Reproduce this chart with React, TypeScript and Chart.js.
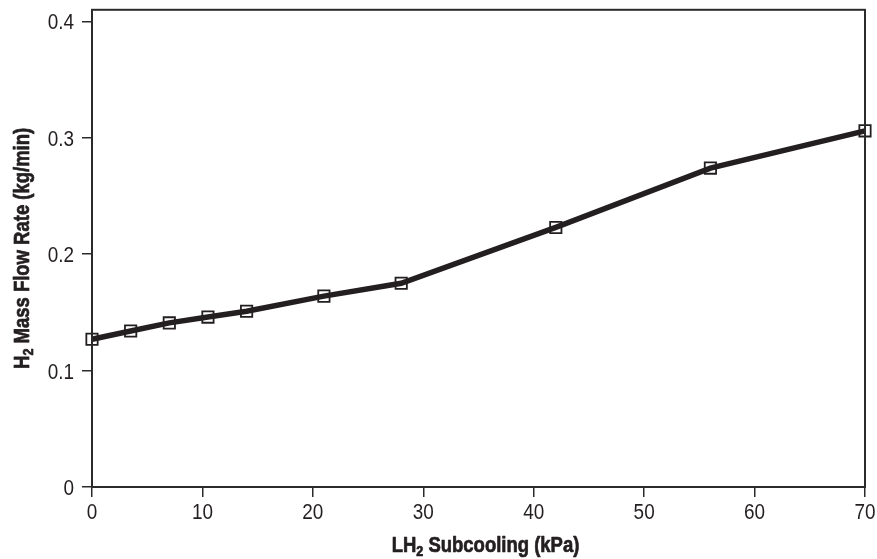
import React, { useEffect, useRef } from "react";
import { Chart, registerables } from "chart.js";

Chart.register(...registerables);

const subcoolingKPa = [0, 3.5, 7, 10.5, 14, 21, 28, 42, 56, 70];
const massFlowRate = [0.127, 0.134, 0.141, 0.146, 0.151, 0.164, 0.175, 0.223, 0.274, 0.306];
const xTicks = [0, 10, 20, 30, 40, 50, 60, 70];
const yTicks = [0, 0.1, 0.2, 0.3, 0.4];
const xTickLabels = ["0", "10", "20", "30", "40", "50", "60", "70"];
const yTickLabels = ["0", "0.1", "0.2", "0.3", "0.4"];

const INK = "#231f20";
const AXIS = "#2b2b2b";
const FONT = "'Liberation Sans', Arial, sans-serif";
const NARROW = 0.86;

function drawNarrow(ctx: CanvasRenderingContext2D, text: string, x: number, y: number, align: "left" | "right" | "center") {
  const w = ctx.measureText(text).width * NARROW;
  let left = x;
  if (align === "right") left = x - w;
  else if (align === "center") left = x - w / 2;
  ctx.save();
  ctx.translate(left, y);
  ctx.scale(NARROW, 1);
  ctx.textAlign = "left";
  ctx.fillText(text, 0, 0);
  ctx.restore();
}

function drawSubText(ctx: CanvasRenderingContext2D, parts: { t: string; sub?: boolean }[], size: number) {
  const main = `bold ${size}px ${FONT}`;
  const small = `bold ${Math.round(size * 0.7)}px ${FONT}`;
  let total = 0;
  for (const p of parts) {
    ctx.font = p.sub ? small : main;
    total += ctx.measureText(p.t).width;
  }
  ctx.save();
  ctx.scale(0.84, 1);
  let x = -total / 2;
  ctx.textAlign = "left";
  ctx.strokeStyle = INK;
  ctx.lineWidth = 0.7;
  ctx.lineJoin = "round";
  for (const p of parts) {
    ctx.font = p.sub ? small : main;
    const yy = p.sub ? size * 0.2 : 0;
    ctx.fillText(p.t, x, yy);
    ctx.strokeText(p.t, x, yy);
    x += ctx.measureText(p.t).width;
  }
  ctx.restore();
}

const framePlugin = {
  id: "frameAndTitles",
  afterDraw(chart: any) {
    const { ctx, chartArea } = chart;
    const xs = chart.scales.x;
    const ys = chart.scales.y;
    ctx.save();
    ctx.strokeStyle = AXIS;
    ctx.lineWidth = 2;
    ctx.strokeRect(chartArea.left, chartArea.top, chartArea.right - chartArea.left, chartArea.bottom - chartArea.top);
    ctx.fillStyle = INK;
    ctx.textBaseline = "alphabetic";
    ctx.font = `22px ${FONT}`;
    xTicks.forEach((v, i) => {
      drawNarrow(ctx, xTickLabels[i], xs.getPixelForValue(v), chartArea.bottom + 32, "center");
    });
    yTicks.forEach((v, i) => {
      drawNarrow(ctx, yTickLabels[i], chartArea.left - 18, ys.getPixelForValue(v) + 8, "right");
    });
    // x title
    ctx.save();
    ctx.translate((chartArea.left + chartArea.right) / 2 + 7, 552);
    drawSubText(ctx, [{ t: "LH" }, { t: "2", sub: true }, { t: " Subcooling (kPa)" }], 22);
    ctx.restore();
    // y title
    ctx.save();
    ctx.translate(29, (chartArea.top + chartArea.bottom) / 2);
    ctx.rotate(-Math.PI / 2);
    drawSubText(ctx, [{ t: "H" }, { t: "2", sub: true }, { t: " Mass Flow Rate (kg/min)" }], 22);
    ctx.restore();
    ctx.restore();
  },
};

export default function App() {
  const ref = useRef<HTMLCanvasElement | null>(null);
  useEffect(() => {
    document.body.style.margin = "0";
    const canvas = ref.current!;
    const chart = new Chart(canvas, {
      type: "line",
      data: {
        datasets: [
          {
            data: subcoolingKPa.map((x, i) => ({ x, y: massFlowRate[i] })),
            borderColor: INK,
            borderWidth: 5.5,
            pointStyle: "rect",
            pointRadius: 8,
            pointBorderWidth: 1.8,
            pointBorderColor: INK,
            pointBackgroundColor: "rgba(0,0,0,0)",
            tension: 0,
            clip: false as any,
          },
        ],
      },
      options: {
        animation: false,
        responsive: false,
        maintainAspectRatio: false,
        layout: { padding: { top: 9, right: 12, left: 0, bottom: 0 } },
        plugins: { legend: { display: false }, tooltip: { enabled: false } },
        scales: {
          x: {
            type: "linear",
            min: 0,
            max: 70,
            afterBuildTicks: (s: any) => {
              s.ticks = xTicks.map((v) => ({ value: v }));
            },
            afterFit: (s: any) => {
              s.height = 72;
              s.paddingLeft = 0;
              s.paddingRight = 0;
            },
            grid: { display: true, drawOnChartArea: false, drawTicks: true, tickLength: 10, color: AXIS, lineWidth: 1.5 },
            border: { display: true, color: AXIS, width: 2 },
            ticks: { display: false },
          },
          y: {
            type: "linear",
            min: 0,
            max: 0.41,
            afterBuildTicks: (s: any) => {
              s.ticks = yTicks.map((v) => ({ value: v }));
            },
            afterFit: (s: any) => {
              s.width = 92;
              s.paddingTop = 0;
              s.paddingBottom = 0;
            },
            grid: { display: true, drawOnChartArea: false, drawTicks: true, tickLength: 10, color: AXIS, lineWidth: 1.5 },
            border: { display: true, color: AXIS, width: 2 },
            ticks: { display: false },
          },
        },
      },
      plugins: [framePlugin],
    });
    return () => chart.destroy();
  }, []);
  return (
    <div style={{ width: 877, height: 559 }}>
      <canvas ref={ref} width={877} height={559} style={{ width: 877, height: 559, display: "block" }} />
    </div>
  );
}
